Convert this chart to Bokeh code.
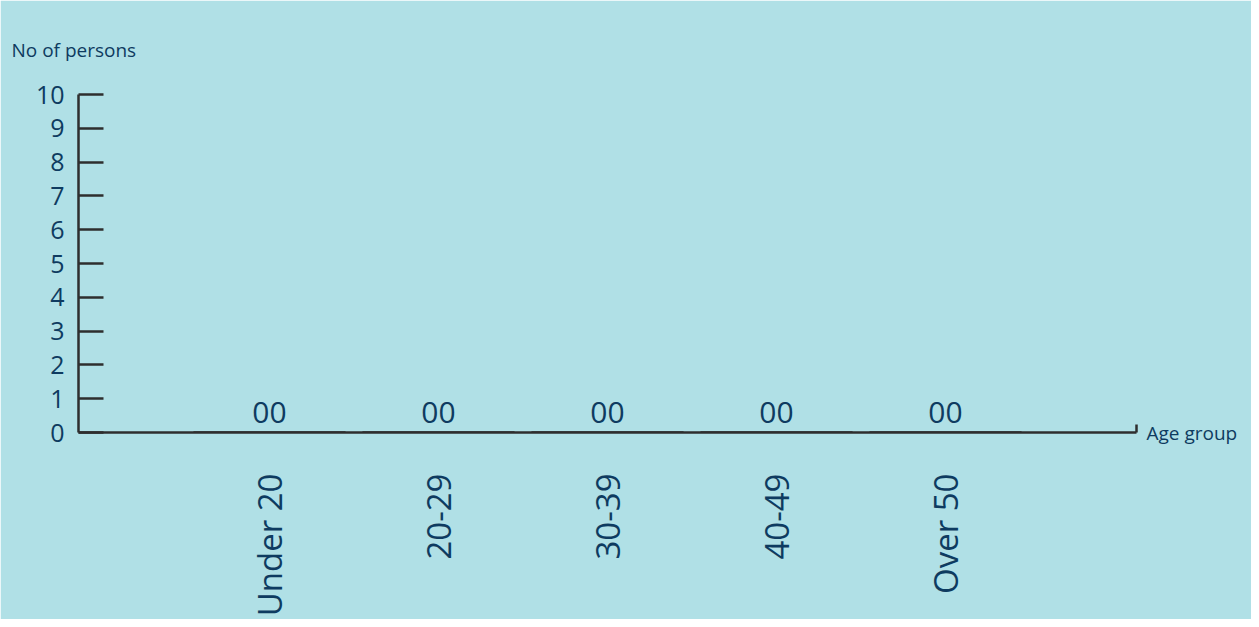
import math
from bokeh.plotting import figure
from bokeh.models import (ColumnDataSource, FactorRange, FixedTicker, LinearAxis,
                          LabelSet, Title, Range1d)
from bokeh.embed import file_html
from bokeh.resources import INLINE
from bokeh.core.properties import value

# ---- data ----
age_groups = ["Under 20", "20-29", "30-39", "40-49", "Over 50"]
persons = [0, 0, 0, 0, 0]
value_labels = ["00", "00", "00", "00", "00"]
y_ticks = [0, 1, 2, 3, 4, 5, 6, 7, 8, 9, 10]
y_title = "No of persons"
x_title = "Age group"

BG = "#b0e0e6"
TEXT = "#0e3b60"
LINE = "#2e2e2e"
FONT = "Open Sans"

source = ColumnDataSource(dict(group=age_groups, persons=persons, label=value_labels))

p = figure(
    width=1251, height=619,
    x_range=FactorRange(factors=age_groups, range_padding=0.252, range_padding_units="percent"),
    y_range=Range1d(0, 10),
    output_backend="svg", toolbar_location=None,
    min_border_left=78, min_border_right=115, min_border_top=94, min_border_bottom=184,
)
p.background_fill_color = BG
p.border_fill_color = BG
p.outline_line_color = BG
p.outline_line_width = 1.5
p.xgrid.grid_line_color = None
p.ygrid.grid_line_color = None

# bars
p.vbar(x="group", top="persons", bottom=0, width=0.9, source=source,
       fill_color="#1f4e79", line_color=LINE, line_width=2.5)

# value labels
p.add_layout(LabelSet(x="group", y="persons", text="label", source=source,
                      y_offset=10, text_align="center", text_baseline="alphabetic",
                      text_font=value(FONT), text_font_size="30px", text_color=TEXT))

# y axis
ya = p.yaxis[0]
ya.ticker = FixedTicker(ticks=y_ticks)
ya.major_tick_in = 25
ya.major_tick_out = 0
ya.minor_tick_line_color = None
ya.major_tick_line_width = 2.5
ya.major_tick_line_color = LINE
ya.axis_line_width = 2.5
ya.axis_line_color = LINE
ya.major_label_standoff = 14
ya.major_label_text_font = FONT
ya.major_label_text_font_size = "25px"
ya.major_label_text_color = TEXT

# x axis
xa = p.xaxis[0]
xa.major_tick_in = 0
xa.major_tick_out = 0
xa.major_tick_line_color = None
xa.axis_line_width = 2.5
xa.axis_line_color = LINE
xa.major_label_orientation = math.pi / 2
xa.major_label_standoff = 41
xa.major_label_text_font = FONT
xa.major_label_text_font_size = "33px"
xa.major_label_text_color = TEXT

# small end tick of the x axis
end_axis = LinearAxis(bounds=(0, 0.23), ticker=FixedTicker(ticks=[]),
                      axis_line_width=2.5, axis_line_color=LINE,
                      major_tick_line_color=None, minor_tick_line_color=None,
                      major_tick_out=0, major_label_standoff=0,
                      major_label_text_font_size="0px")
p.add_layout(end_axis, "right")

# "Age group" as a horizontal label of an invisible right axis near the baseline
name_axis = LinearAxis(bounds=(0.3, 0.62), ticker=FixedTicker(ticks=[]),
                       axis_line_color=None, major_tick_line_color=None,
                       minor_tick_line_color=None, major_tick_out=0,
                       major_label_standoff=0, major_label_text_font_size="0px",
                       axis_label=x_title, axis_label_standoff=10,
                       axis_label_text_font=FONT, axis_label_text_font_size="19px",
                       axis_label_text_font_style="normal", axis_label_text_color=TEXT,
                       axis_label_text_baseline="bottom")
if hasattr(name_axis, "axis_label_orientation"):
    name_axis.axis_label_orientation = "horizontal"
if hasattr(name_axis, "axis_label_align"):
    name_axis.axis_label_align = "start"
p.add_layout(name_axis, "right")

# "No of persons" as a left-aligned title at the top
p.add_layout(Title(text=y_title, align="left", offset=-67, standoff=63, text_font=FONT,
                   text_font_size="19px", text_font_style="normal",
                   text_color=TEXT), "above")

open("out.html", "w").write(file_html(p, INLINE))
